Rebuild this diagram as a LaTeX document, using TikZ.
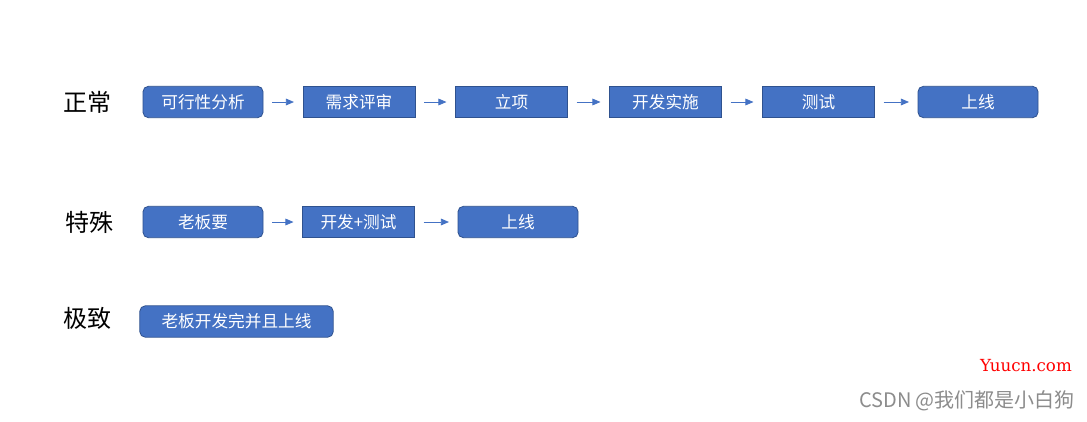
\documentclass[tikz,border=0pt]{standalone}
\usepackage{fontspec}
\setmainfont{Liberation Sans}
\newfontfamily\cjk{Noto Sans CJK SC}
\usetikzlibrary{arrows.meta}
\definecolor{boxblue}{HTML}{4472C4}
\definecolor{boxedge}{HTML}{2F528F}
\tikzset{
  stepbox/.style={draw=boxedge, fill=boxblue, text=white, font=\cjk\fontsize{12.5}{14}\selectfont,
    minimum height=23.5pt, inner sep=0pt, line width=0.6pt},
  roundbox/.style={stepbox, rounded corners=4pt},
  rowlabel/.style={font=\cjk\fontsize{18}{20}\selectfont, inner sep=0pt},
  flow/.style={draw=boxblue, line width=0.6pt, -{Triangle[length=6pt,width=5pt]}, shorten <=6.5pt, shorten >=6.5pt}
}
\begin{document}
\begin{tikzpicture}[x=0.75pt,y=-0.75pt]
\useasboundingbox[fill=white] (0,0) rectangle (1087,421);
                % Normal
                \node[rowlabel] (normal) at (87,102) {正常};
                \node[roundbox, minimum width=90pt] (feasible) at (203,102) {可行性分析};
                \node[stepbox, minimum width=84pt] (review) at (359,102) {需求评审};
                \node[stepbox, minimum width=84pt] (project) at (511.5,102) {立项};
                \node[stepbox, minimum width=84pt] (develop) at (665.5,102) {开发实施};
                \node[stepbox, minimum width=84pt] (testing) at (818.5,102) {测试};
                \node[roundbox, minimum width=90pt] (online) at (978,102) {上线};

                \draw[flow] (feasible) -- (review);
                \draw[flow] (review) -- (project);
                \draw[flow] (project) -- (develop);
                \draw[flow] (develop) -- (testing);
                \draw[flow] (testing) -- (online);

                % Special
                \node[rowlabel] (special) at (89,222) {特殊};
                \node[roundbox, minimum width=90pt] (boss) at (203,222) {老板要};
                \node[stepbox, minimum width=84pt] (devtest) at (358.5,222) {开发+测试};
                \node[roundbox, minimum width=90pt] (online2) at (518,222) {上线};

                \draw[flow] (boss) -- (devtest);
                \draw[flow] (devtest) -- (online2);

                % Extreme
                \node[rowlabel] (extreme) at (87,318) {极致};
                \node[roundbox, minimum width=145pt] (bossdone) at (236.5,321.5) {老板开发完并且上线};

                % watermarks
                \node[font=\fontspec{DejaVu Serif}\fontsize{12.5}{15}\selectfont, text=red, inner sep=0pt] (site) at (1026,366) {Yuucn.com};
                \node[font=\cjk\fontsize{15}{17}\selectfont, text=black!45, inner sep=0pt] (author) at (967,401) {CSDN @我们都是小白狗};
            \end{tikzpicture}
\end{document}
